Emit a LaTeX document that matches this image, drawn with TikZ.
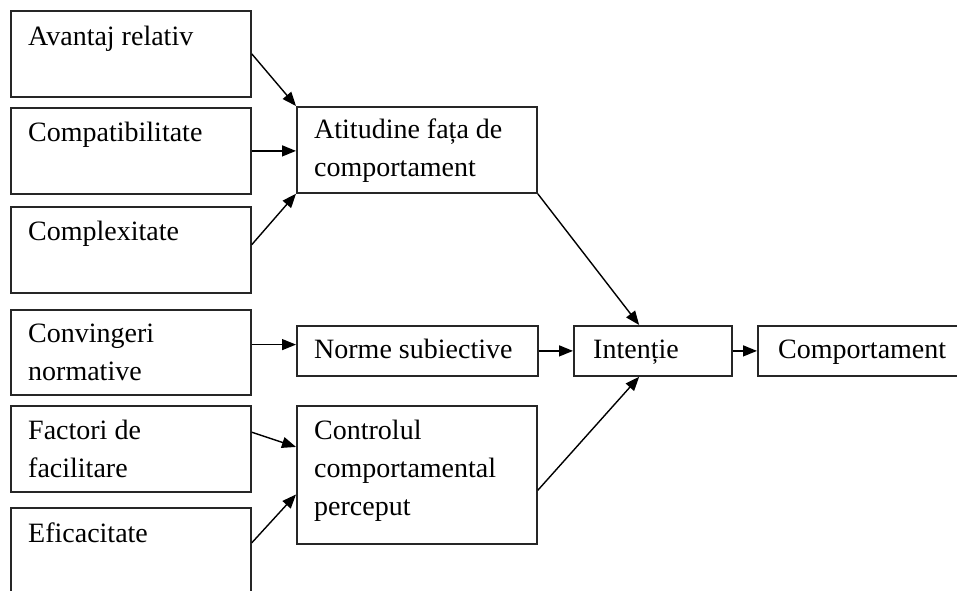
\documentclass[tikz,border=0pt]{standalone}
\usepackage{fontspec}
\setmainfont{Liberation Serif}
\usetikzlibrary{arrows.meta,calc}
\begin{document}
\begin{tikzpicture}[x=1pt,y=-1pt,
  box/.style={draw=black!85,line width=1.8pt,inner sep=0pt,anchor=north west},
  lbl/.style={inner sep=0pt,anchor=base west,align=left,
    font=\fontsize{28}{38}\selectfont},
  link/.style={line width=1.4pt,-{Triangle[length=14pt,width=11pt]}}]
\clip (0,0) rectangle (957,590);
\fill[white] (0,0) rectangle (957,590);
% boxes (top-left corner; width, height)
\node[box,minimum width=240pt,minimum height=86pt] (b1) at (10,10) {};
\node[box,minimum width=240pt,minimum height=86pt] (b2) at (10,107) {};
\node[box,minimum width=240pt,minimum height=86pt] (b3) at (10,206) {};
\node[box,minimum width=240pt,minimum height=85pt] (b4) at (10,309) {};
\node[box,minimum width=240pt,minimum height=86pt] (b5) at (10,405) {};
\node[box,minimum width=240pt,minimum height=110pt] (b6) at (10,507) {};
\node[box,minimum width=240pt,minimum height=86pt] (att) at (296,106) {};
\node[box,minimum width=241pt,minimum height=50pt] (norm) at (296,325) {};
\node[box,minimum width=240pt,minimum height=138pt] (ctrl) at (296,405) {};
\node[box,minimum width=158pt,minimum height=50pt] (int) at (573,325) {};
\node[box,minimum width=215pt,minimum height=50pt] (comp) at (757,325) {};
% labels (base anchor sits on the last line)
\node[lbl] (t1) at ($(b1.north west)+(18,35)$) {Avantaj relativ};
\node[lbl] (t2) at ($(b2.north west)+(18,34)$) {Compatibilitate};
\node[lbl] (t3) at ($(b3.north west)+(18,34)$) {Complexitate};
\node[lbl] (t4) at ($(b4.north west)+(18,71)$) {Convingeri\\normative};
\node[lbl] (t5) at ($(b5.north west)+(18,72)$) {Factori de\\facilitare};
\node[lbl] (t6) at ($(b6.north west)+(18,35)$) {Eficacitate};
\node[lbl] (tatt) at ($(att.north west)+(18,70)$) {Atitudine fața de\\comportament};
\node[lbl] (tnorm) at ($(norm.north west)+(18,33)$) {Norme subiective};
\node[lbl] (tctrl) at ($(ctrl.north west)+(18,110)$) {Controlul\\comportamental\\perceput};
\node[lbl] (tint) at ($(int.north west)+(20,33)$) {Intenție};
\node[lbl] (tcomp) at ($(comp.north west)+(21,33)$) {Comportament};
% connector end points on box edges
\coordinate (f3) at ($(b3.north east)!0.44!(b3.south east)$);
\coordinate (f4) at ($(b4.north east)!0.41!(b4.south east)$);
\coordinate (n4) at (f4 -| norm.west);
\coordinate (f5) at ($(b5.north east)!0.31!(b5.south east)$);
\coordinate (c5) at ($(ctrl.north west)!0.30!(ctrl.south west)$);
\coordinate (f6) at ($(b6.north east)!0.32!(b6.south east)$);
\coordinate (c6) at ($(ctrl.north west)!0.64!(ctrl.south west)$);
\coordinate (cout) at ($(ctrl.north east)!0.61!(ctrl.south east)$);
\coordinate (itop) at ($(int.north west)!0.414!(int.north east)$);
\coordinate (ibot) at ($(int.south west)!0.414!(int.south east)$);
\coordinate (iout) at (int.east);
\coordinate (cin) at (iout -| comp.west);
% connectors
\draw[link] (b1.east) -- (att.north west);
\draw[link] (b2.east) -- (b2.east -| att.west);
\draw[link] (f3) -- (att.south west);
\draw[link] (f4) -- (n4);
\draw[link] (f5) -- (c5);
\draw[link] (f6) -- (c6);
\draw[link] (norm.east) -- (int.west);
\draw[link] (iout) -- (cin);
\draw[link] (att.south east) -- (itop);
\draw[link] (cout) -- (ibot);
\end{tikzpicture}
\end{document}
